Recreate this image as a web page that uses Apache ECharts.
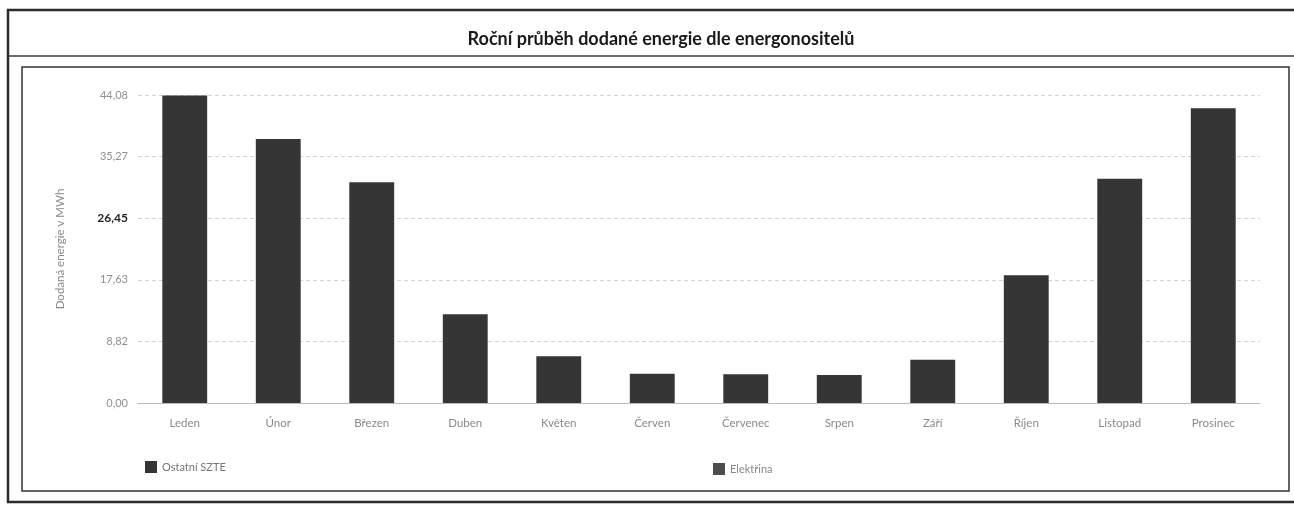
<!DOCTYPE html>
<html>
<head>
<meta charset="utf-8">
<script src="https://cdn.jsdelivr.net/npm/echarts@6/dist/echarts.min.js"></script>
<style>
  html, body { margin: 0; padding: 0; background: #ffffff; }
  #chart { width: 1294px; height: 506px; }
</style>
</head>
<body>
<div id="chart"></div>
<script>
// Monthly delivered energy (MWh)
const months = ['Leden', 'Únor', 'Březen', 'Duben', 'Květen', 'Červen',
                'Červenec', 'Srpen', 'Září', 'Říjen', 'Listopad', 'Prosinec'];
const ostatniSZTE = [44.0, 37.8, 31.6, 12.7, 6.7, 4.2, 4.1, 4.0, 6.2, 18.3, 32.1, 42.2];
const elektrina = [0, 0, 0, 0, 0, 0, 0, 0, 0, 0, 0, 0];
const yTickLabels = ['0,00', '8,82', '17,63', '26,45', '35,27', '44,08'];
const axisMax = 44.08;
const axisStep = axisMax / 5;

const chart = echarts.init(document.getElementById('chart'), null, { renderer: 'canvas' });

chart.setOption({
  backgroundColor: '#ffffff',
  animation: false,
  title: {
    text: 'Roční průběh dodané energie dle energonositelů',
    left: 656,
    textAlign: 'center',
    top: 25,
    textStyle: { fontFamily: 'Lato', fontWeight: 'bold', fontSize: 18, color: '#1a1a1a' }
  },
  graphic: [
    { type: 'rect', shape: { x: 8, y: 10, width: 1300, height: 492 },
      style: { fill: 'none', stroke: '#2a2a2a', lineWidth: 2.5 }, silent: true },
    { type: 'line', shape: { x1: 8, y1: 56, x2: 1294, y2: 56 },
      style: { stroke: '#3a3a3a', lineWidth: 1.5 }, silent: true },
    { type: 'rect', shape: { x: 22, y: 67, width: 1267, height: 424 },
      style: { fill: 'none', stroke: '#333333', lineWidth: 1.5 }, silent: true }
  ],
  legend: [
    { data: ['Ostatní SZTE'], left: 140, top: 456, itemWidth: 12, itemHeight: 12,
      icon: 'rect', textStyle: { color: '#777', fontSize: 11, fontFamily: 'Lato' } },
    { data: ['Elektřina'], left: 708, top: 458, itemWidth: 12, itemHeight: 12,
      icon: 'rect', textStyle: { color: '#888', fontSize: 11, fontFamily: 'Lato' } }
  ],
  grid: { left: 138, right: 34, top: 95, bottom: 103, containLabel: false },
  xAxis: {
    type: 'category',
    data: months,
    axisLine: { lineStyle: { color: '#bbbbbb' } },
    axisTick: { show: false },
    axisLabel: { color: '#8a8a8a', fontSize: 11.5, fontFamily: 'Lato', margin: 14 }
  },
  yAxis: {
    type: 'value',
    min: 0,
    max: axisMax,
    interval: axisStep,
    name: 'Dodaná energie v MWh',
    nameLocation: 'middle',
    nameGap: 72,
    nameTextStyle: { color: '#8a8a8a', fontSize: 11.5, fontFamily: 'Lato' },
    axisLine: { show: false },
    axisTick: { show: false },
    axisLabel: {
      margin: 10,
      fontFamily: 'Lato',
      formatter: v => {
        const i = Math.round(v / axisStep);
        const s = yTickLabels[i];
        return i === 3 ? '{b|' + s + '}' : '{n|' + s + '}';
      },
      rich: {
        n: { color: '#8f8f8f', fontSize: 11, fontFamily: 'Lato' },
        b: { color: '#222222', fontSize: 12, fontWeight: 'bold', fontFamily: 'Lato' }
      }
    },
    splitLine: { lineStyle: { color: '#d2d2d2', type: [4, 3], width: 1 } }
  },
  series: [
    {
      name: 'Ostatní SZTE',
      type: 'bar',
      stack: 'energie',
      data: ostatniSZTE,
      barWidth: '48%',
      itemStyle: { color: '#353535' }
    },
    {
      name: 'Elektřina',
      type: 'bar',
      stack: 'energie',
      data: elektrina,
      barWidth: '48%',
      itemStyle: { color: '#4d4d4d' }
    }
  ]
});
</script>
</body>
</html>
